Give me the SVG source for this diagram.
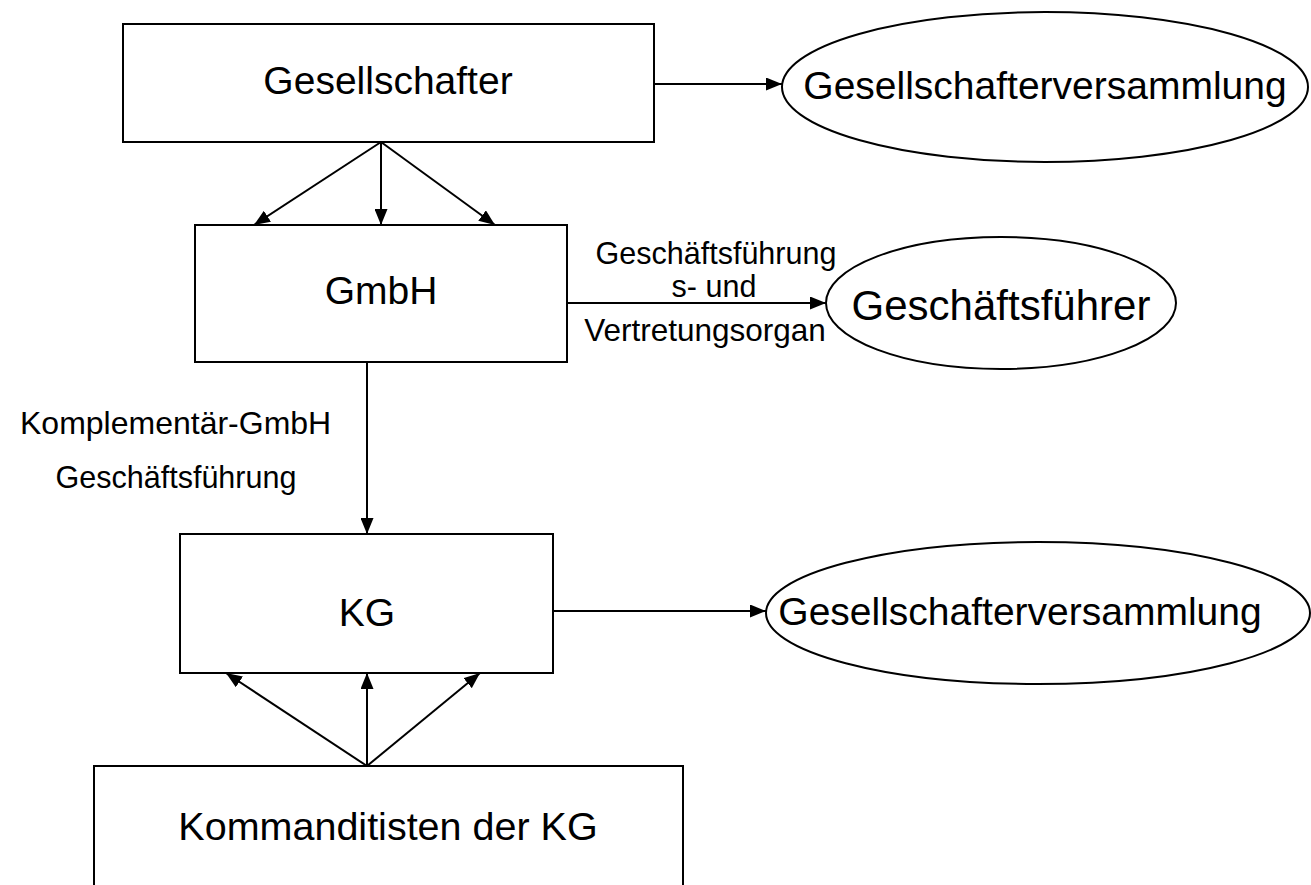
<svg xmlns="http://www.w3.org/2000/svg" width="1311" height="885" viewBox="0 0 1311 885">
<style>
.box{fill:#fff;stroke:#000;stroke-width:2}
.big{font-family:"Liberation Sans",Arial,sans-serif;font-size:39px;fill:#000;text-anchor:middle}
.lbl{font-family:"Liberation Sans",Arial,sans-serif;font-size:30.5px;fill:#000;text-anchor:middle}
.ln{fill:none;stroke:#000;stroke-width:2;marker-end:url(#ah)}
</style>
<defs>
<marker id="ah" markerUnits="userSpaceOnUse" markerWidth="17" markerHeight="13" refX="16" refY="6.5" orient="auto">
<path d="M0,0 L16,6.5 L0,13 z" fill="#000"/>
</marker>
</defs>
<rect width="1311" height="885" fill="#fff"/>
<g id="connectors">
<line class="ln" x1="654" y1="84" x2="782" y2="84"/>
<line class="ln" x1="381" y1="142" x2="254" y2="225"/>
<line class="ln" x1="381" y1="142" x2="381" y2="225"/>
<line class="ln" x1="381" y1="142" x2="495" y2="225"/>
<line class="ln" x1="567" y1="303" x2="826" y2="303"/>
<line class="ln" x1="367" y1="363" x2="367" y2="534"/>
<line class="ln" x1="553" y1="611" x2="766" y2="611"/>
<line class="ln" x1="367" y1="766" x2="226" y2="673"/>
<line class="ln" x1="367" y1="766" x2="367" y2="673"/>
<line class="ln" x1="367" y1="766" x2="480" y2="673"/>
</g>
<g id="lbl-gf">
<text class="lbl" x="716" y="264">Geschäftsführung</text>
<text class="lbl" x="714" y="297">s- und</text>
<text class="lbl" x="705" y="341" style="font-size:31.5px">Vertretungsorgan</text>
</g>
<g id="lbl-komp">
<text class="lbl" x="20" y="434" style="font-size:32px;text-anchor:start">Komplementär-GmbH</text>
<text class="lbl" x="176" y="488">Geschäftsführung</text>
</g>
<g id="gesellschafter">
<rect class="box" x="123" y="24" width="531" height="118"/>
<text class="big" x="388" y="94">Gesellschafter</text>
</g>
<g id="gv1">
<ellipse class="box" cx="1045" cy="87" rx="263" ry="75"/>
<text class="big" x="1045" y="99">Gesellschafterversammlung</text>
</g>
<g id="gmbh">
<rect class="box" x="195" y="225" width="372" height="137"/>
<text class="big" x="381" y="304">GmbH</text>
</g>
<g id="gf">
<ellipse class="box" cx="1001" cy="303" rx="175" ry="66"/>
<text class="big" x="1001" y="320" style="font-size:42px">Geschäftsführer</text>
</g>
<g id="kg">
<rect class="box" x="180" y="534" width="373" height="139"/>
<text class="big" x="367" y="626">KG</text>
</g>
<g id="gv2">
<ellipse class="box" cx="1038" cy="613" rx="272" ry="71"/>
<text class="big" x="1020" y="625">Gesellschafterversammlung</text>
</g>
<g id="kommanditisten">
<rect class="box" x="94" y="766" width="589" height="140"/>
<text class="big" x="388" y="840" style="font-size:39.5px">Kommanditisten der KG</text>
</g>
</svg>
